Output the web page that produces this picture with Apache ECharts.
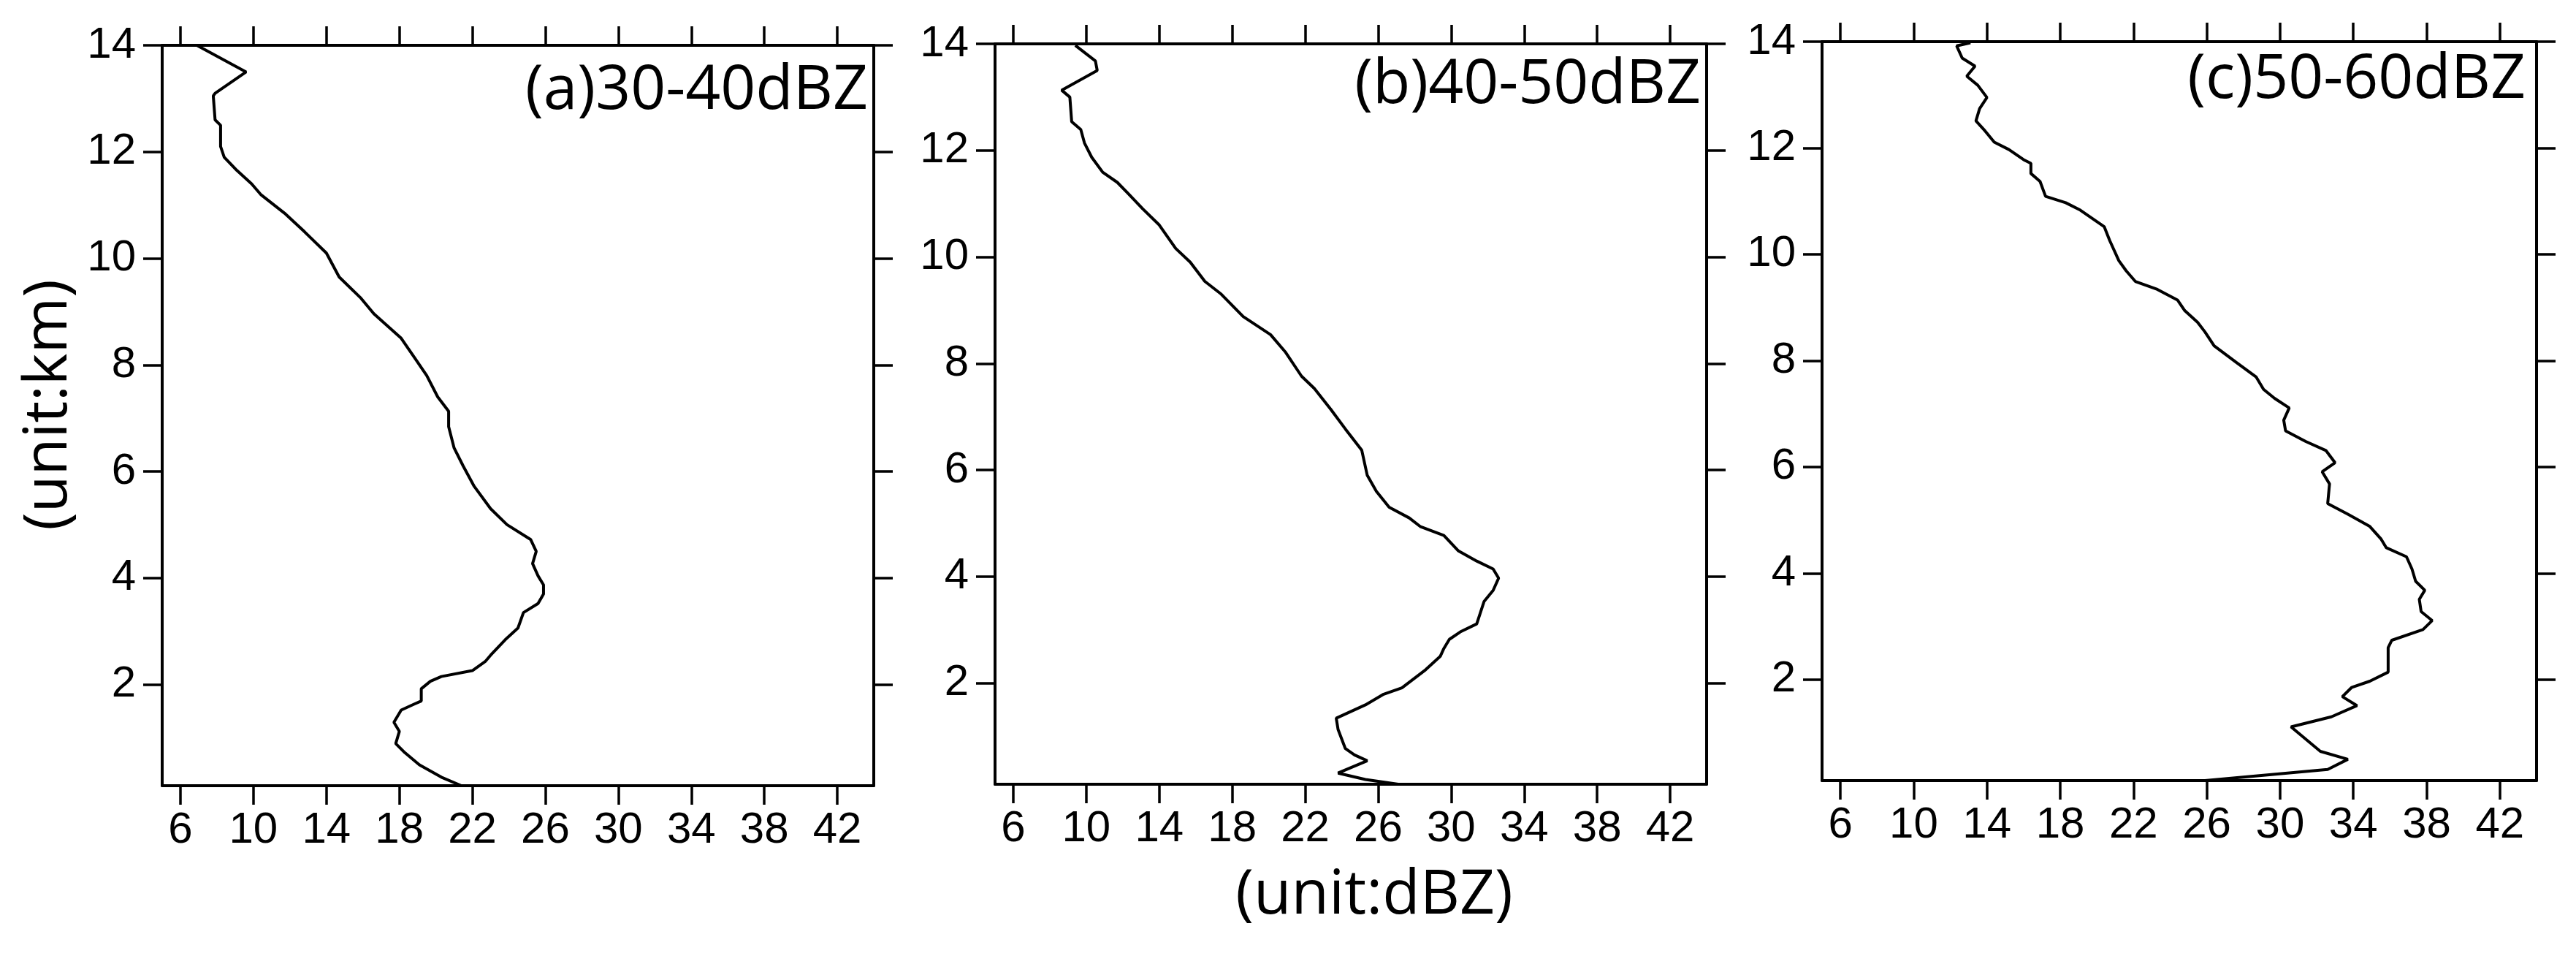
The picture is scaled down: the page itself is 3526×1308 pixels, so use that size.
<!DOCTYPE html>
<html><head><meta charset="utf-8">
<script src="https://cdn.jsdelivr.net/npm/echarts@6/dist/echarts.min.js"></script>
<style>html,body{margin:0;padding:0;background:#fff}#c{width:3526px;height:1308px}</style>
</head><body><div id="c"></div>
<script>
// ---- tick values ----
const xTicks = [6, 10, 14, 18, 22, 26, 30, 34, 38, 42];
const yTicks = [2, 4, 6, 8, 10, 12, 14];
const panelTitles = ['(a)30-40dBZ', '(b)40-50dBZ', '(c)50-60dBZ'];
const xAxisName = '(unit:dBZ)';
const yAxisName = '(unit:km)';

// ---- panel (a) 30-40 dBZ ----
const dbzA = [6.9, 9.6, 7.9, 7.8, 7.9, 8.2, 8.2, 8.4, 9.1, 9.9, 10.4, 11.7, 12.8, 14.0, 14.7, 15.9, 16.6, 18.1, 18.9, 19.5, 20.1, 20.7, 20.7, 21.0, 21.5, 22.1, 23.0, 23.9, 25.2, 25.5, 25.3, 25.6, 25.9, 25.9, 25.6, 24.8, 24.5, 23.8, 23.0, 22.7, 22.0, 20.3, 19.7, 19.2, 19.2, 18.8, 18.1, 17.7, 18.0, 17.8, 18.3, 19.1, 20.3, 21.4];
const hgtA = [14.0, 13.5, 13.1, 13.05, 12.6, 12.5, 12.1, 11.9, 11.65, 11.4, 11.2, 10.85, 10.5, 10.1, 9.65, 9.25, 8.96, 8.5, 8.1, 7.8, 7.4, 7.13, 6.84, 6.44, 6.1, 5.72, 5.3, 5.0, 4.72, 4.5, 4.27, 4.04, 3.87, 3.7, 3.52, 3.35, 3.06, 2.84, 2.55, 2.43, 2.26, 2.15, 2.06, 1.92, 1.69, 1.63, 1.52, 1.29, 1.12, 0.89, 0.72, 0.49, 0.26, 0.1];

// ---- panel (b) 40-50 dBZ ----
const dbzB = [9.4, 10.5, 10.6, 8.65, 9.1, 9.2, 9.7, 9.9, 10.3, 10.9, 11.7, 12.3, 13.1, 14.0, 14.9, 15.7, 16.5, 17.4, 18.6, 20.1, 20.9, 21.8, 22.5, 23.4, 24.2, 25.1, 25.4, 25.9, 26.6, 27.7, 28.3, 29.6, 30.4, 31.4, 32.3, 32.6, 32.3, 31.8, 31.4, 30.5, 29.9, 29.6, 29.4, 28.6, 27.3, 26.3, 25.3, 23.7, 23.8, 24.2, 24.7, 25.4, 23.8, 25.3, 27.1];
const hgtB = [13.97, 13.68, 13.5, 13.13, 13.0, 12.54, 12.39, 12.14, 11.87, 11.59, 11.4, 11.19, 10.9, 10.6, 10.16, 9.9, 9.54, 9.3, 8.88, 8.54, 8.22, 7.76, 7.53, 7.14, 6.77, 6.37, 5.9, 5.6, 5.3, 5.1, 4.94, 4.77, 4.48, 4.29, 4.14, 3.97, 3.74, 3.53, 3.11, 2.96, 2.82, 2.65, 2.5, 2.25, 1.91, 1.79, 1.59, 1.34, 1.13, 0.77, 0.65, 0.54, 0.31, 0.19, 0.1];

// ---- panel (c) 50-60 dBZ ----
const dbzC = [13.1, 12.35, 12.65, 13.35, 12.9, 13.5, 14.0, 13.6, 13.4, 13.9, 14.4, 15.2, 16.0, 16.4, 16.4, 16.9, 17.2, 18.3, 19.1, 20.4, 20.7, 21.2, 21.6, 22.1, 23.3, 24.4, 24.8, 25.5, 25.9, 26.4, 27.6, 28.7, 29.1, 29.7, 30.5, 30.2, 30.3, 31.4, 32.5, 33.0, 32.3, 32.7, 32.6, 33.7, 34.9, 35.5, 35.8, 36.9, 37.2, 37.4, 37.9, 37.6, 37.7, 38.3, 37.8, 36.1, 35.9, 35.9, 34.9, 33.9, 33.4, 34.2, 32.8, 30.6, 31.4, 32.2, 33.7, 32.6, 25.9];
const hgtC = [13.98, 13.92, 13.69, 13.54, 13.35, 13.18, 12.95, 12.74, 12.51, 12.32, 12.11, 11.97, 11.78, 11.71, 11.52, 11.37, 11.09, 10.97, 10.83, 10.52, 10.26, 9.88, 9.69, 9.49, 9.34, 9.14, 8.94, 8.72, 8.54, 8.28, 7.97, 7.69, 7.46, 7.29, 7.11, 6.88, 6.68, 6.48, 6.31, 6.08, 5.91, 5.68, 5.31, 5.11, 4.88, 4.65, 4.48, 4.31, 4.08, 3.85, 3.68, 3.51, 3.28, 3.11, 2.94, 2.74, 2.6, 2.14, 1.97, 1.85, 1.68, 1.51, 1.3, 1.11, 0.88, 0.65, 0.5, 0.31, 0.1];

const panels = [[dbzA, hgtA], [dbzB, hgtB], [dbzC, hgtC]];

// ---- layout ----
const grids = [
  {left: 222, top: 62, width: 974, height: 1013},
  {left: 1362, top: 60, width: 974, height: 1013},
  {left: 2494, top: 57, width: 978, height: 1011}
];
const titlePos = [[1188, 125], [2328, 117], [3457, 110]];

const AX = {color: '#000', width: 4};
const TK = {color: '#000', width: 3.5};
const tickFont = {fontFamily: 'Liberation Sans', fontSize: 60, color: '#000'};

const xAxes = [], yAxes = [], series = [];
grids.forEach((g, i) => {
  ['bottom', 'top'].forEach(pos => {
    xAxes.push({
      type: 'value', gridIndex: i, position: pos, min: 5, max: 44,
      axisLine: {show: true, onZero: false, lineStyle: AX},
      axisTick: {show: true, inside: false, length: 26, lineStyle: TK, customValues: xTicks},
      axisLabel: pos === 'bottom'
        ? Object.assign({show: true, margin: 31, customValues: xTicks}, tickFont)
        : {show: false},
      splitLine: {show: false}
    });
  });
  ['left', 'right'].forEach(pos => {
    yAxes.push({
      type: 'value', gridIndex: i, position: pos, min: 0.1, max: 14,
      axisLine: {show: true, onZero: false, lineStyle: AX},
      axisTick: {show: true, inside: false, length: 26, lineStyle: TK, customValues: yTicks},
      axisLabel: pos === 'left'
        ? Object.assign({show: true, margin: 36, customValues: yTicks}, tickFont)
        : {show: false},
      splitLine: {show: false}
    });
  });
  const [xs, ys] = panels[i];
  series.push({
    type: 'line', xAxisIndex: i * 2, yAxisIndex: i * 2,
    data: xs.map((x, k) => [x, ys[k]]),
    showSymbol: false, symbol: 'none', smooth: false,
    lineStyle: {color: '#000', width: 4}, silent: true
  });
});

const titleFont = 'Open Sans';
const graphics = panelTitles.map((t, i) => ({
  type: 'text', x: titlePos[i][0], y: titlePos[i][1], silent: true,
  style: {text: t, fontFamily: titleFont, fontSize: 84, fill: '#000', textAlign: 'right', textVerticalAlign: 'middle'}
}));
graphics.push({
  type: 'text', x: 1881, y: 1226, silent: true,
  style: {text: xAxisName, fontFamily: titleFont, fontSize: 84, fill: '#000', textAlign: 'center', textVerticalAlign: 'middle'}
});
graphics.push({
  type: 'text', x: 67, y: 554, rotation: Math.PI / 2, silent: true,
  style: {text: yAxisName, fontFamily: titleFont, fontSize: 83, fill: '#000', textAlign: 'center', textVerticalAlign: 'middle'}
});

const chart = echarts.init(document.getElementById('c'), null, {renderer: 'canvas'});
chart.setOption({
  animation: false,
  backgroundColor: '#fff',
  grid: grids,
  xAxis: xAxes,
  yAxis: yAxes,
  series: series,
  graphic: graphics
});
</script></body></html>
